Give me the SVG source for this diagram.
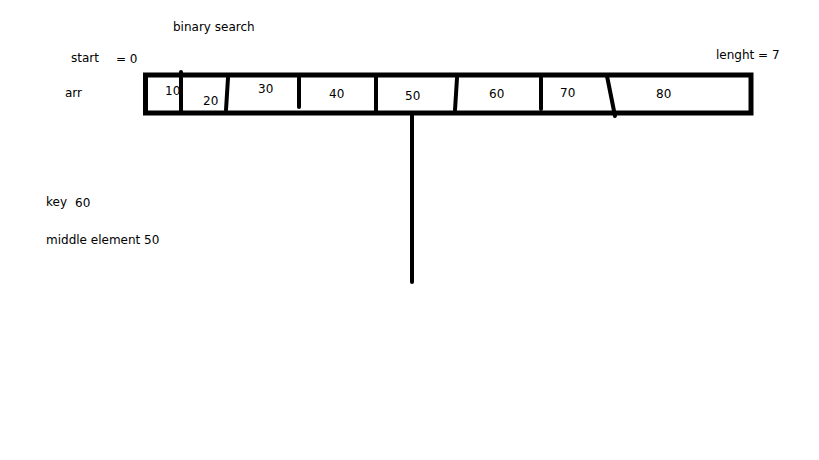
<svg xmlns="http://www.w3.org/2000/svg" width="819" height="460" viewBox="0 0 819 460">
<style>
text{font-family:"DejaVu Sans","Liberation Sans",sans-serif;font-size:12px;fill:#000}
.ln{stroke:#000;stroke-width:4;stroke-linecap:round;fill:none}
</style>
<rect width="819" height="460" fill="#fff"/>
<g id="labels">
<text x="173" y="31">binary search</text>
<text x="71" y="62">start</text>
<text x="116" y="63">= 0</text>
<text x="716" y="59">lenght = 7</text>
<text x="65" y="97">arr</text>
<text x="46" y="206">key</text>
<text x="75" y="207">60</text>
<text x="46" y="244">middle element 50</text>
</g>
<g id="array">
<rect x="145.5" y="75" width="605.5" height="38" fill="none" stroke="#000" stroke-width="5"/>
<text x="165" y="95">10</text>
<text x="203" y="105">20</text>
<text x="258" y="93">30</text>
<text x="329" y="98">40</text>
<text x="405" y="100">50</text>
<text x="489" y="98">60</text>
<text x="560" y="97">70</text>
<text x="656" y="98">80</text>
</g>
<g id="connectors">
<line class="ln" x1="181" y1="72" x2="181" y2="113"/>
<line class="ln" x1="228" y1="78" x2="226" y2="110"/>
<line class="ln" x1="299" y1="78" x2="299" y2="107"/>
<line class="ln" x1="376" y1="76" x2="376" y2="111"/>
<line class="ln" x1="457" y1="78" x2="455" y2="110"/>
<line class="ln" x1="541" y1="78" x2="541" y2="109"/>
<line class="ln" x1="607" y1="76" x2="615" y2="116"/>
<line class="ln" x1="412" y1="114" x2="412" y2="282"/>
</g>
</svg>
